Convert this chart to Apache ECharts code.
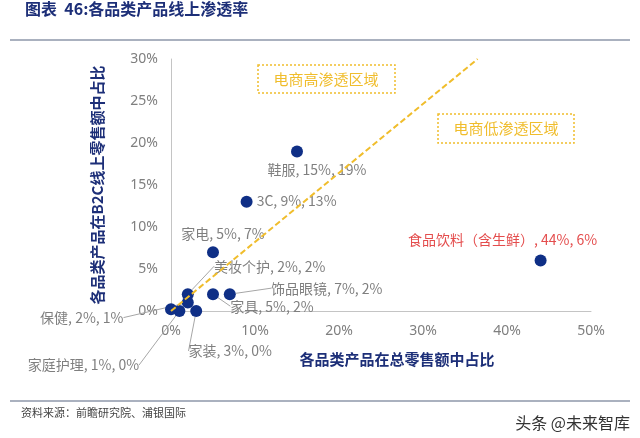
<!DOCTYPE html>
<html>
<head>
<meta charset="utf-8">
<script src="https://cdn.jsdelivr.net/npm/echarts@6/dist/echarts.min.js"></script>
<style>
  html, body { margin: 0; padding: 0; background: #fff; }
  #chart { width: 640px; height: 438px; }
</style>
</head>
<body>
<div id="chart"></div>
<script>
// 各品类：在总零售额中占比(x) / 在B2C线上零售额中占比(y)
const categories = ["鞋服", "3C", "家电", "美妆个护", "饰品眼镜", "家具", "保健", "家装", "家庭护理", "食品饮料（含生鲜）", ""];
const totalShare = [15, 9, 5, 2, 7, 5, 2, 3, 1, 44, 0];
const onlineShare = [19, 13, 7, 2, 2, 2, 1, 0, 0, 6, 0.2];

// 渗透分界线
const lineX = [0, 36.5];
const lineY = [0, 30];

// label offsets from the dot (px), and whether a guide line is drawn
const labelOffsets = [
  [20, 18], [50, -1], [10, -19], [82, -28], [97, -6], [59, 12],
  [-106, 15], [34, 40], [-96, 54], [-38, -21], [0, 0]
];
const withGuide = [false, false, false, true, true, true, true, true, true, false, false];

const gray = "#7f7f7f";
const navy = "#0f2f86";
const gold = "#f0bd2c";
const cjk = "'Noto Sans CJK SC', 'Noto Sans', sans-serif";

const chart = echarts.init(document.getElementById("chart"));

const points = categories.map((name, i) => ({
  name,
  value: [totalShare[i], onlineShare[i]],
  label: {
    show: name !== "",
    color: i === 9 ? "#e44d4d" : gray,
  },
  labelLine: { show: withGuide[i] },
}));

chart.setOption({
  animation: false,
  textStyle: { fontFamily: cjk },
  title: {
    text: "图表  46:各品类产品线上渗透率",
    left: 20,
    top: 0,
    padding: [1, 5],
    textStyle: { color: "#1d2f78", fontSize: 16, fontWeight: "bold", fontFamily: cjk },
  },
  grid: { left: 171, right: 49, top: 59, bottom: 127 },
  xAxis: {
    type: "value",
    min: 0,
    max: 50,
    interval: 10,
    name: "各品类产品在总零售额中占比",
    nameLocation: "middle",
    nameGap: 41,
    nameTextStyle: { color: "#1d2f78", fontSize: 15, fontWeight: "bold", padding: [0, 0, 0, 32] },
    axisLine: { lineStyle: { color: "#c4c4c4" } },
    axisTick: { show: false },
    splitLine: { show: false },
    axisLabel: { formatter: "{value}%", color: gray, fontSize: 14, margin: 13, fontFamily: "'Noto Sans', sans-serif" },
  },
  yAxis: {
    type: "value",
    min: 0,
    max: 30,
    interval: 5,
    name: "各品类产品在B2C线上零售额中占比",
    nameLocation: "middle",
    nameGap: 66,
    nameTextStyle: { color: "#1d2f78", fontSize: 15, fontWeight: "bold" },
    axisLine: { show: true, lineStyle: { color: "#c4c4c4" } },
    axisTick: { show: false },
    splitLine: { show: false },
    axisLabel: { formatter: "{value}%", color: gray, fontSize: 14, margin: 13, fontFamily: "'Noto Sans', sans-serif" },
  },
  series: [
    {
      type: "scatter",
      symbolSize: 12,
      itemStyle: { color: navy, opacity: 1 },
      label: {
        position: "inside",
        fontSize: 14,
        formatter: (p) => p.name + ", " + p.value[0] + "%, " + p.value[1] + "%",
      },
      labelLine: { lineStyle: { color: "#a6a6a6", width: 1 } },
      labelLayout: (p) => ({ dx: labelOffsets[p.dataIndex][0], dy: labelOffsets[p.dataIndex][1] }),
      data: points,
      z: 2,
    },
    {
      type: "line",
      data: lineX.map((x, i) => [x, lineY[i]]),
      symbol: "none",
      lineStyle: { color: gold, width: 2, type: [6, 3] },
      z: 3,
      silent: true,
    },
  ],
  graphic: [
    { type: "line", shape: { x1: 10, y1: 40, x2: 630, y2: 40 }, style: { stroke: "#8e97aa", lineWidth: 1.5 } },
    {
      type: "rect",
      shape: { x: 258, y: 65, width: 137, height: 28 },
      style: { fill: "none", stroke: gold, lineWidth: 1.5, lineDash: [2, 2] },
    },
    {
      type: "text",
      x: 326, y: 79,
      style: { text: "电商高渗透区域", fill: gold, font: "15px " + cjk, align: "center", verticalAlign: "middle" },
    },
    {
      type: "rect",
      shape: { x: 438, y: 114, width: 136, height: 29 },
      style: { fill: "none", stroke: gold, lineWidth: 1.5, lineDash: [2, 2] },
    },
    {
      type: "text",
      x: 506, y: 128,
      style: { text: "电商低渗透区域", fill: gold, font: "15px " + cjk, align: "center", verticalAlign: "middle" },
    },
    { type: "line", shape: { x1: 10, y1: 401, x2: 630, y2: 401 }, style: { stroke: "#8e97aa", lineWidth: 1.5 } },
    {
      type: "text",
      x: 21, y: 413,
      style: { text: "资料来源：前瞻研究院、浦银国际", fill: "#444", font: "11px " + cjk, verticalAlign: "middle" },
    },
    {
      type: "text",
      x: 630, y: 423,
      style: { text: "头条 @未来智库", fill: "#333", font: "16px " + cjk, align: "right", verticalAlign: "middle" },
    },
  ],
});
</script>
</body>
</html>
